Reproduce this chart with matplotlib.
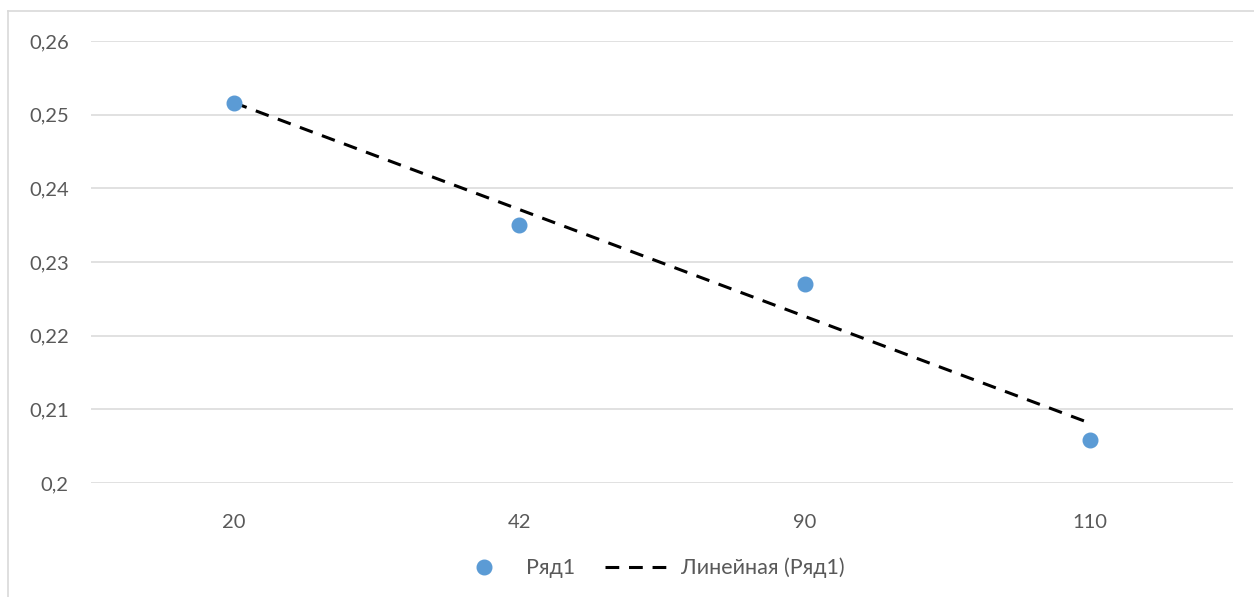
import matplotlib
matplotlib.use('Agg')
import matplotlib.pyplot as plt
from matplotlib.lines import Line2D
from matplotlib.ticker import FuncFormatter
import numpy as np

# Data (categorical x axis, Excel style)
categories = ['20', '42', '90', '110']
values = [0.2516, 0.2350, 0.2270, 0.2059]
y_ticks = [0.20, 0.21, 0.22, 0.23, 0.24, 0.25, 0.26]

series_name = 'Ряд1'
trend_name = 'Линейная (Ряд1)'

plt.rcParams['font.family'] = ['Lato', 'DejaVu Sans']

W, H = 1254, 597
fig = plt.figure(figsize=(W / 100, H / 100), dpi=100)
ax = fig.add_axes([91 / W, 1 - 483 / H, (1233 - 91) / W, (483 - 41) / H])

x = np.arange(len(categories))
# Excel linear trendline uses category index 1..n
idx = x + 1
k, b = np.polyfit(idx, values, 1)
trend = k * idx + b

ax.plot(x, trend, color='black', lw=2.2, dashes=(4.5, 3.2), zorder=3)
ax.plot(x, values, 'o', color='#5B9BD5', markersize=10.5, zorder=4)

ax.set_xlim(-0.5, len(categories) - 0.5)
ax.set_ylim(y_ticks[0], y_ticks[-1])
ax.set_xticks(x)
ax.set_xticklabels(categories)
ax.set_yticks(y_ticks)
ax.yaxis.set_major_formatter(FuncFormatter(lambda v, p: ('%g' % round(v, 4)).replace('.', ',')))

ax.grid(axis='y', color='#d9d9d9', lw=1.1)
ax.set_axisbelow(True)
for s in ax.spines.values():
    s.set_visible(False)
ax.tick_params(length=0, labelsize=14.5, labelcolor='#595959')
ax.tick_params(axis='y', pad=16)
ax.tick_params(axis='x', pad=22)

# legend
handles = [
    Line2D([], [], ls='none', marker='o', color='#5B9BD5', markersize=10.5),
    Line2D([], [], color='black', lw=2.2, dashes=(4.5, 3.2)),
]
fig.legend(handles, [series_name, trend_name], loc='center',
           bbox_to_anchor=(647 / W, 1 - 568 / H), ncol=2, frameon=False,
           fontsize=15.5, labelcolor='#595959', handlelength=3.2,
           columnspacing=1.4, handletextpad=0.35)

# chart area border (left and top edges visible in the crop)
fig.add_artist(Line2D([8 / W, 8 / W], [0, 1 - 11 / H], color='#d9d9d9', lw=1.2))
fig.add_artist(Line2D([8 / W, 1], [1 - 11 / H, 1 - 11 / H], color='#d9d9d9', lw=1.2))

fig.savefig('out.png', dpi=100)
